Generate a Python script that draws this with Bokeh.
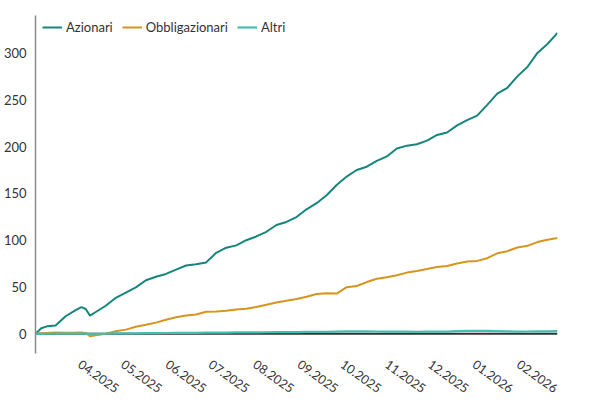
import pandas as pd
from bokeh.plotting import figure
from bokeh.models import Range1d, FixedTicker, Legend, LegendItem, ColumnDataSource
from bokeh.embed import file_html
from bokeh.resources import INLINE

dates = ["2025-03-01", "2025-03-05", "2025-03-09", "2025-03-15", "2025-03-22", "2025-03-29",
         "2025-04-02", "2025-04-05", "2025-04-08", "2025-04-12", "2025-04-19", "2025-04-26",
         "2025-05-03", "2025-05-10", "2025-05-17", "2025-05-24", "2025-05-31", "2025-06-07",
         "2025-06-14", "2025-06-21", "2025-06-28", "2025-07-05", "2025-07-12", "2025-07-19",
         "2025-07-26", "2025-08-02", "2025-08-09", "2025-08-16", "2025-08-23", "2025-08-30",
         "2025-09-06", "2025-09-13", "2025-09-20", "2025-09-27", "2025-10-04", "2025-10-11",
         "2025-10-18", "2025-10-25", "2025-11-01", "2025-11-08", "2025-11-15", "2025-11-22",
         "2025-11-29", "2025-12-06", "2025-12-13", "2025-12-20", "2025-12-27", "2026-01-03",
         "2026-01-10", "2026-01-17", "2026-01-24", "2026-01-31", "2026-02-07", "2026-02-14",
         "2026-02-21", "2026-02-28"]

azionari = [0, 6, 8, 9, 18.8, 25.3, 28.5, 26.5, 19.5, 23.3, 30, 38.5,
            44, 49.6, 57.3, 61, 64, 68.5, 73, 74.4, 76.3, 86.5, 92, 94.5,
            100, 104, 109, 116.2, 119.5, 124.7, 133, 139.5, 148, 159, 168, 175,
            178.5, 184.7, 189.5, 198, 201, 202.5, 206.3, 212.4, 215, 222.6, 228.3, 233,
            244.5, 256.6, 262.8, 275, 285, 300, 309.6, 321.5]

obbligazionari = [0, 0.5, 1, 1.4, 1.2, 1.3, 1.4, 1, -2.5, -1.5, 0, 2.8,
                  4.5, 7.6, 9.6, 12, 15, 17.7, 19.6, 20.6, 23.5, 23.9, 24.6, 26.1,
                  26.9, 28.7, 31, 33.4, 35.4, 37.2, 39.7, 42.6, 43.3, 43, 49.8, 51.1,
                  55.3, 58.8, 60.5, 62.5, 65.4, 67.2, 69.2, 71.4, 72.5, 75.1, 77.2, 77.9,
                  80.8, 86, 88.3, 92.2, 94, 98, 100.4, 102.3]

altri = [0, 0, 0.1, 0.2, 0.3, 0.3, 0.3, 0.2, 0, 0.1, 0.2, 0.4,
         0.5, 0.6, 0.7, 0.8, 0.9, 1.0, 1.0, 1.1, 1.2, 1.3, 1.4, 1.5,
         1.5, 1.6, 1.7, 1.8, 1.8, 1.9, 2.0, 2.1, 2.2, 2.4, 2.6, 2.7,
         2.6, 2.5, 2.4, 2.3, 2.3, 2.2, 2.3, 2.3, 2.4, 2.8, 3.2, 3.3,
         3.2, 2.9, 2.6, 2.4, 2.5, 2.6, 2.7, 2.8]

tick_dates = ["2025-04-01", "2025-05-01", "2025-06-01", "2025-07-01", "2025-08-01", "2025-09-01",
              "2025-10-01", "2025-11-01", "2025-12-01", "2026-01-01", "2026-02-01"]
tick_labels = ["04.2025", "05.2025", "06.2025", "07.2025", "08.2025", "09.2025",
               "10.2025", "11.2025", "12.2025", "01.2026", "02.2026"]
y_ticks = [0, 50, 100, 150, 200, 250, 300]

series_names = ["Azionari", "Obbligazionari", "Altri"]
colors = ["#15867c", "#d6951c", "#45bdb1"]

FONT = "Lato"

x = pd.to_datetime(dates)
src = ColumnDataSource(dict(x=x, a=azionari, o=obbligazionari, t=altri,
                            z=[0] * len(dates)))

p = figure(width=588, height=400, x_axis_type="datetime",
           output_backend="svg", toolbar_location=None,
           min_border_left=26, min_border_right=31, min_border_top=15, min_border_bottom=47,
           x_range=Range1d(x[0], x[-1]), y_range=Range1d(-21, 340))
p.outline_line_color = None
p.grid.visible = False
p.background_fill_color = "white"

# zero line
p.line("x", "z", source=src, line_color="#333333", line_width=2)

r_a = p.line("x", "a", source=src, line_color=colors[0], line_width=2)
r_o = p.line("x", "o", source=src, line_color=colors[1], line_width=2)
r_t = p.line("x", "t", source=src, line_color=colors[2], line_width=2.2)

tick_ms = [pd.Timestamp(d).value // 10**6 for d in tick_dates]
xa = p.xaxis[0]
xa.ticker = FixedTicker(ticks=tick_ms)
xa.major_label_overrides = {t: l for t, l in zip(tick_ms, tick_labels)}
xa.axis_line_color = None
xa.major_tick_line_color = None
xa.minor_tick_line_color = None
xa.major_label_orientation = -0.62
xa.major_label_text_font = FONT
xa.major_label_text_font_size = "12.5px"
xa.major_label_text_color = "#333333"
xa.major_label_standoff = 3

ya = p.yaxis[0]
ya.ticker = FixedTicker(ticks=y_ticks)
ya.axis_line_color = "#8a8a8a"
ya.axis_line_width = 1.5
ya.major_tick_line_color = None
ya.minor_tick_line_color = None
ya.major_label_text_font = FONT
ya.major_label_text_font_size = "13px"
ya.major_label_text_color = "#333333"
ya.major_label_standoff = 3

legend = Legend(items=[LegendItem(label=series_names[0], renderers=[r_a]),
                       LegendItem(label=series_names[1], renderers=[r_o]),
                       LegendItem(label=series_names[2], renderers=[r_t])],
                orientation="horizontal", location=(7, 318),
                border_line_color=None, background_fill_alpha=0,
                label_text_font=FONT, label_text_font_size="13px",
                label_text_color="#333333",
                glyph_width=20, glyph_height=12, label_standoff=4, spacing=9,
                padding=2, margin=0)
p.add_layout(legend)

open("out.html", "w").write(file_html(p, INLINE))
